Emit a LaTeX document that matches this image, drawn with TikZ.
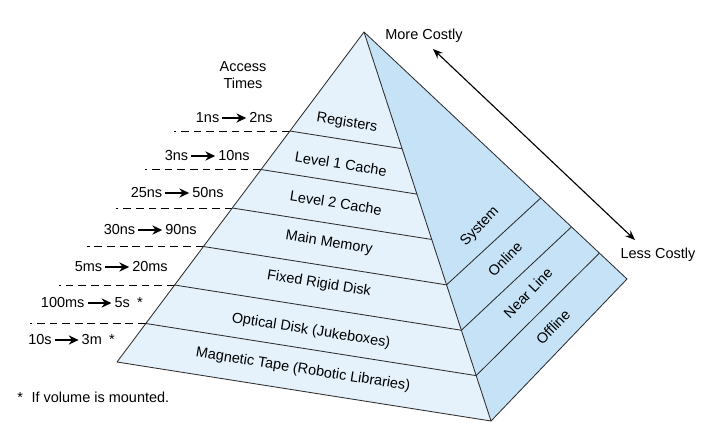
\documentclass[tikz,border=0pt]{standalone}
\usepackage{fontspec}
\setmainfont{Liberation Sans}
\usepackage{xcolor}
\definecolor{pyrfront}{RGB}{229,241,251}
\definecolor{pyrside}{RGB}{198,226,247}
\definecolor{pyrline}{RGB}{45,45,45}
\usetikzlibrary{arrows.meta, positioning, calc}

\begin{document}
\begin{tikzpicture}[x=0.025cm, y=-0.025cm,
  every node/.style={font=\fontsize{10.3}{11.5}\selectfont},
  edge/.style={pyrline, line width=0.6pt},
  level/.style={inner sep=1pt, rotate=-9},
  tier/.style={inner sep=1pt, rotate=46},
  guide/.style={black, line width=0.6pt, dash pattern=on 5.5pt off 3.5pt},
  time/.style={inner sep=0pt},
  speed/.style={-{Stealth[length=7pt,width=6.5pt]}, line width=1.3pt,
                shorten <=2pt, shorten >=2pt}]

\useasboundingbox (0,0) rectangle (714,430);

% --- Pyramid corners ---
\coordinate (apex) at (364,32);
\coordinate (bl) at (117,362);
\coordinate (bf) at (491,421);
\coordinate (rc) at (627,279);

% faces
\fill[pyrfront] (apex) -- (bl) -- (bf) -- cycle;
\fill[pyrside] (apex) -- (bf) -- (rc) -- cycle;

% front divisions (levels)
\foreach \t [count=\i] in {0.3,0.4167,0.5333,0.65,0.7667,0.8833} {
  \coordinate (fl\i) at ($(apex)!\t!(bl)$);
  \coordinate (fr\i) at ($(apex)!\t!(bf)$);
  \draw[edge] (fl\i) -- (fr\i);
  \draw[guide] (fl\i) -- ++(-116,0);
}

% side divisions (tiers)
\foreach \s [count=\i from 4] in {0.672,0.789,0.895} {
  \coordinate (sr\i) at ($(apex)!\s!(rc)$);
  \draw[edge] (fr\i) -- (sr\i);
}

% outline
\draw[edge, line join=round] (apex) -- (bl) -- (bf) -- (rc) -- cycle;
\draw[edge] (apex) -- (bf);

% --- Level labels ---
\node[level] (lv1) at (347,123) {Registers};
\node[level] (lv2) at (341,164) {Level 1 Cache};
\node[level] (lv3) at (336,203) {Level 2 Cache};
\node[level] (lv4) at (329,243) {Main Memory};
\node[level] (lv5) at (319,284) {Fixed Rigid Disk};
\node[level] (lv6) at (311,331) {Optical Disk (Jukeboxes)};
\node[level] (lv7) at (303,370) {Magnetic Tape (Robotic Libraries)};

% --- Tier labels ---
\node[tier] (tr1) at (480,227) {System};
\node[tier] (tr2) at (505,259) {Online};
\node[tier] (tr3) at (528,293) {Near Line};
\node[tier] (tr4) at (553,327) {Offline};

% --- Access times ---
\node[align=center] (acc) at (243,75) {Access\\Times};

\node[time, anchor=east] (t1b) at (273,118) {2ns};
\node[time, left=21pt of t1b] (t1a) {1ns};
\node[time, anchor=east] (t2b) at (250,156) {10ns};
\node[time, left=21pt of t2b] (t2a) {3ns};
\node[time, anchor=east] (t3b) at (224,193) {50ns};
\node[time, left=21pt of t3b] (t3a) {25ns};
\node[time, anchor=east] (t4b) at (197,230) {90ns};
\node[time, left=21pt of t4b] (t4a) {30ns};
\node[time, anchor=east] (t5b) at (168,267) {20ms};
\node[time, left=21pt of t5b] (t5a) {5ms};
\node[time, anchor=east] (t6b) at (143,303) {5s\hspace{0.5em}*};
\node[time, left=21pt of t6b] (t6a) {100ms};
\node[time, anchor=east] (t7b) at (115,340) {3m\hspace{0.5em}*};
\node[time, left=21pt of t7b] (t7a) {10s};

\foreach \i in {1,...,7}
  \draw[speed] (t\i a) -- (t\i b);

% --- Cost arrow ---
\node (more) at (424,36) {More Costly};
\node (less) at (658,255) {Less Costly};
\coordinate (costhi) at (433,49);
\coordinate (costlo) at (635,240);
\draw[{Stealth[length=7pt,width=5.5pt]}-{Stealth[length=7pt,width=5.5pt]},
      line width=0.8pt] (costhi) -- (costlo);

% footnote
\node[time, anchor=west] (note) at (17,397) {*\hspace{0.6em}If volume is mounted.};

\end{tikzpicture}
\end{document}
